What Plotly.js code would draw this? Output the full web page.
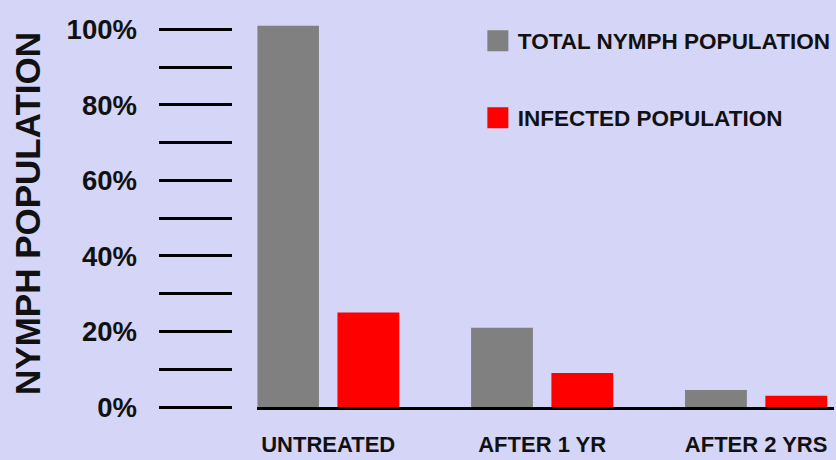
<!DOCTYPE html>
<html>
<head>
<meta charset="utf-8">
<script src="https://cdn.plot.ly/plotly-3.0.1.min.js"></script>
<style>html,body{margin:0;padding:0;background:#d5d5f7;}#chart{width:836px;height:460px;}</style>
</head>
<body>
<div id="chart"></div>
<script>
const categories = ["UNTREATED", "AFTER 1 YR", "AFTER 2 YRS"];
const totalNymph = [101, 21, 4.5];
const infected = [25, 9, 3];
const seriesNames = ["TOTAL NYMPH POPULATION", "INFECTED POPULATION"];
const seriesColors = ["#808080", "#ff0000"];
const yTickVals = [0, 10, 20, 30, 40, 50, 60, 70, 80, 90, 100];
const yTickText = ["0%", "", "20%", "", "40%", "", "60%", "", "80%", "", "100%"];

const W = 836, H = 460;
const FONT = "Liberation Sans, Arial, Helvetica, sans-serif";
const BG = "#d5d5f7";
const INK = "#111111";

const traces = [
  {type: "bar", x: categories, y: totalNymph, name: seriesNames[0],
   marker: {color: seriesColors[0]}, legend: "legend", showlegend: false, legendgroup: "a", hoverinfo: "x+y"},
  {type: "bar", x: categories, y: infected, name: seriesNames[1],
   marker: {color: seriesColors[1]}, legend: "legend2", showlegend: false, legendgroup: "b", hoverinfo: "x+y"},
  // legend-only entries (no data) with a larger swatch
  {type: "scatter", mode: "markers", x: [null], y: [null], name: seriesNames[0], legendgroup: "a",
   marker: {symbol: "square", size: 16, color: seriesColors[0], line: {width: 5, color: seriesColors[0]}},
   legend: "legend", hoverinfo: "skip"},
  {type: "scatter", mode: "markers", x: [null], y: [null], name: seriesNames[1], legendgroup: "b",
   marker: {symbol: "square", size: 16, color: seriesColors[1], line: {width: 5, color: seriesColors[1]}},
   legend: "legend2", hoverinfo: "skip"}
];

const legendFont = {family: FONT, size: 22.5, color: INK, weight: 700};

const layout = {
  width: W, height: H,
  paper_bgcolor: BG, plot_bgcolor: BG,
  margin: {l: 0, r: 0, t: 20, b: 53},
  barmode: "group", bargap: 0.249, bargroupgap: 0.23,
  font: {family: FONT, color: INK, weight: 700},
  xaxis: {
    domain: [258 / W, 1],
    type: "category",
    range: [-0.331, 2.364],
    showline: true, linecolor: "#000000", linewidth: 3,
    ticks: "", showgrid: false, zeroline: false,
    tickfont: {family: FONT, size: 22, color: INK, weight: 700},
    ticklabelstandoff: 16,
    fixedrange: true
  },
  yaxis: {
    anchor: "free", position: 233 / W,
    range: [0, 102.5],
    tickvals: yTickVals, ticktext: yTickText,
    ticks: "outside", ticklen: 73, tickwidth: 3, tickcolor: "#000000",
    showline: false, showgrid: false, zeroline: false,
    tickfont: {family: FONT, size: 27.5, color: INK, weight: 700},
    ticklabelstandoff: 17,
    title: {text: "NYMPH POPULATION", font: {family: FONT, size: 35, color: INK, weight: 700}, standoff: 14},
    automargin: false,
    fixedrange: true
  },
  legend: {
    x: 479 / W, xanchor: "left", y: (407 - 41) / 387, yanchor: "middle",
    bgcolor: "rgba(0,0,0,0)", font: legendFont, itemsizing: "trace"
  },
  legend2: {
    x: 479 / W, xanchor: "left", y: (407 - 118) / 387, yanchor: "middle",
    bgcolor: "rgba(0,0,0,0)", font: legendFont, itemsizing: "trace"
  },
  showlegend: true
};

Plotly.newPlot("chart", traces, layout, {displayModeBar: false, staticPlot: true});
</script>
</body>
</html>
